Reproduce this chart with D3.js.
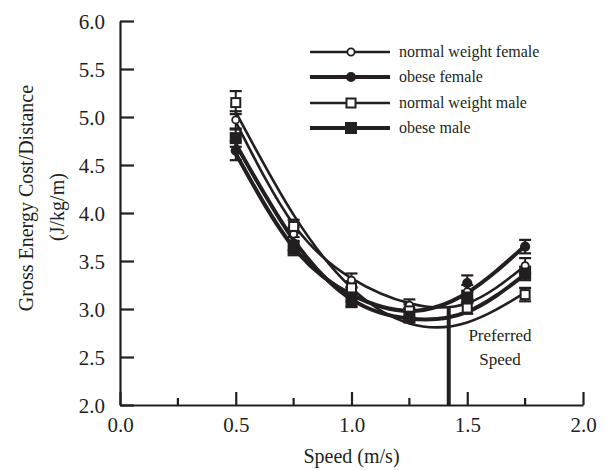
<!DOCTYPE html>
<html>
<head>
<meta charset="utf-8">
<script src="https://cdn.jsdelivr.net/npm/d3@7"></script>
<style>
  body { margin: 0; background: #fff; }
  svg text { font-family: "Liberation Serif", "Times New Roman", serif; fill: #231f20; }
</style>
</head>
<body>
<svg id="chart" width="606" height="470"></svg>
<script>
// speeds (m/s) where cost was measured
const speeds = [0.5, 0.75, 1.0, 1.25, 1.5, 1.75];

// gross energy cost per distance (J/kg/m)
const nwFemale = [4.97, 3.78, 3.30, 3.04, 3.18, 3.45];
const obFemale = [4.65, 3.68, 3.15, 2.95, 3.27, 3.65];
const nwMale   = [5.15, 3.86, 3.22, 2.98, 3.01, 3.15];
const obMale   = [4.78, 3.63, 3.08, 2.92, 3.12, 3.37];

// standard errors (error bar half-lengths)
const nwFemaleErr = [0.09, 0.07, 0.07, 0.06, 0.07, 0.08];
const obFemaleErr = [0.10, 0.07, 0.07, 0.06, 0.08, 0.07];
const nwMaleErr   = [0.12, 0.07, 0.07, 0.07, 0.06, 0.07];
const obMaleErr   = [0.09, 0.07, 0.06, 0.06, 0.06, 0.07];

// fitted curve heights at the same speeds
const nwFemaleFit = [4.95, 3.88, 3.32, 3.06, 3.06, 3.45];
const obFemaleFit = [4.62, 3.64, 3.15, 2.98, 3.17, 3.66];
const nwMaleFit   = [5.05, 3.98, 3.22, 2.85, 2.86, 3.17];
const obMaleFit   = [4.72, 3.72, 3.10, 2.90, 2.97, 3.36];

const seriesNames = ["normal weight female", "obese female", "normal weight male", "obese male"];
const preferredSpeed = 1.42;
const preferredTop = 3.02;

const xTicks = [0, 0.5, 1.0, 1.5, 2.0];
const xMinor = [0.25, 0.75, 1.25, 1.75];
const yTicks = [2.0, 2.5, 3.0, 3.5, 4.0, 4.5, 5.0, 5.5, 6.0];

const series = [
  {name: seriesNames[0], vals: nwFemale, err: nwFemaleErr, fit: nwFemaleFit, shape: "circle", fill: false, w: 2.6},
  {name: seriesNames[1], vals: obFemale, err: obFemaleErr, fit: obFemaleFit, shape: "circle", fill: true,  w: 4},
  {name: seriesNames[2], vals: nwMale,   err: nwMaleErr,   fit: nwMaleFit,   shape: "square", fill: false, w: 2.6},
  {name: seriesNames[3], vals: obMale,   err: obMaleErr,   fit: obMaleFit,   shape: "square", fill: true,  w: 4}
];

const ink = "#231f20";
const svg = d3.select("#chart");

const x = d3.scaleLinear().domain([0, 2]).range([120, 583]);
const y = d3.scaleLinear().domain([2, 6]).range([405, 21]);

// axes
const yAxis = d3.axisLeft(y).tickValues(yTicks).tickFormat(d3.format(".1f"))
  .tickSizeInner(-14).tickSizeOuter(0).tickPadding(15);
const gy = svg.append("g").attr("transform", `translate(${x(0)},0)`).call(yAxis);

const xAxis = d3.axisBottom(x).tickValues(xTicks).tickFormat(d3.format(".1f"))
  .tickSizeInner(-13).tickSizeOuter(0).tickPadding(12);
const gx = svg.append("g").attr("transform", `translate(0,${y(2)})`).call(xAxis);

gx.selectAll(".minor").data(xMinor).enter().append("line")
  .attr("class", "minor")
  .attr("x1", d => x(d)).attr("x2", d => x(d))
  .attr("y1", 0).attr("y2", -7);

[gx, gy].forEach(g => {
  g.selectAll("path, line").attr("stroke", ink).attr("stroke-width", 2.2);
  g.selectAll("text").attr("font-size", 21).style("fill", ink);
});
gy.selectAll("text").attr("dy", "0.36em");

// axis titles
svg.append("text").attr("x", x(1)).attr("y", 463).attr("text-anchor", "middle")
  .attr("font-size", 20).text("Speed (m/s)");
svg.append("text").attr("transform", "translate(33,198) rotate(-90)")
  .attr("text-anchor", "middle").attr("font-size", 20).text("Gross Energy Cost/Distance");
svg.append("text").attr("transform", "translate(64,207) rotate(-90)")
  .attr("text-anchor", "middle").attr("font-size", 20).text("(J/kg/m)");

// fitted curves
const line = d3.line().x(d => x(d[0])).y(d => y(d[1])).curve(d3.curveNatural);
series.forEach(s => {
  svg.append("path").datum(speeds.map((sp, i) => [sp, s.fit[i]]))
    .attr("d", line).attr("fill", "none")
    .attr("stroke", ink).attr("stroke-width", s.w);
});

// preferred speed marker
svg.append("line")
  .attr("x1", x(preferredSpeed)).attr("x2", x(preferredSpeed))
  .attr("y1", y(preferredTop)).attr("y2", y(2))
  .attr("stroke", ink).attr("stroke-width", 4);
svg.append("text").attr("x", 500).attr("y", 341).attr("text-anchor", "middle")
  .attr("font-size", 17).text("Preferred");
svg.append("text").attr("x", 500).attr("y", 365).attr("text-anchor", "middle")
  .attr("font-size", 17).text("Speed");

function marker(g, s, cx, cy) {
  if (s.shape === "circle") {
    const r = s.fill ? 4.2 : 3.6;
    g.append("circle").attr("cx", cx).attr("cy", cy).attr("r", r)
      .attr("fill", s.fill ? ink : "#fff").attr("stroke", ink).attr("stroke-width", 1.8);
  } else {
    const a = s.fill ? 10 : 9;
    g.append("rect").attr("x", cx - a / 2).attr("y", cy - a / 2)
      .attr("width", a).attr("height", a)
      .attr("fill", s.fill ? ink : "#fff").attr("stroke", ink).attr("stroke-width", 2);
  }
}

// error bars and points
series.forEach(s => {
  const g = svg.append("g");
  speeds.forEach((sp, i) => {
    const cx = x(sp), v = s.vals[i], e = s.err[i];
    g.append("line").attr("x1", cx).attr("x2", cx)
      .attr("y1", y(v - e)).attr("y2", y(v + e))
      .attr("stroke", ink).attr("stroke-width", 2);
    [v - e, v + e].forEach(c => {
      g.append("line").attr("x1", cx - 6).attr("x2", cx + 6)
        .attr("y1", y(c)).attr("y2", y(c))
        .attr("stroke", ink).attr("stroke-width", 2.2);
    });
  });
});
series.forEach(s => {
  const g = svg.append("g");
  speeds.forEach((sp, i) => marker(g, s, x(sp), y(s.vals[i])));
});

// legend
const legendY = [52, 77, 103, 128];
series.forEach((s, i) => {
  const g = svg.append("g").attr("transform", `translate(0,${legendY[i]})`);
  g.append("line").attr("x1", 310).attr("x2", 390).attr("y1", 0).attr("y2", 0)
    .attr("stroke", ink).attr("stroke-width", s.w);
  marker(g, s, 351, 0);
  g.append("text").attr("x", 399).attr("y", 0).attr("dy", "0.33em")
    .attr("font-size", 16).text(s.name);
});
</script>
</body>
</html>
